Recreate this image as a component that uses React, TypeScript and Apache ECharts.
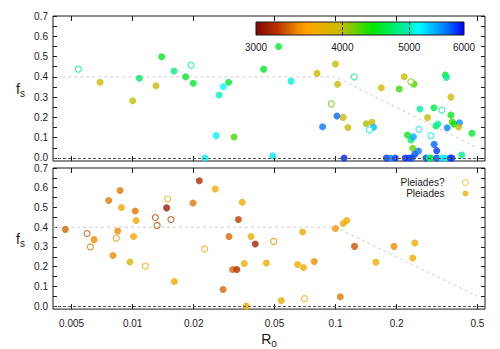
import React, { useEffect, useRef } from "react";
import * as echarts from "echarts";

// ---------- DATA ----------
// Top panel (field stars), filled symbols
const topRo = [0.00691, 0.0100, 0.0108, 0.01304, 0.0139, 0.0160, 0.01824, 0.0199, 0.02275, 0.0258,
  0.0267, 0.028, 0.0297, 0.0316, 0.0524, 0.0442, 0.0603, 0.049, 0.081, 0.0999,
  0.1023, 0.1016, 0.109, 0.115, 0.0863, 0.1102, 0.1416, 0.151, 0.1539, 0.168,
  0.218, 0.2433, 0.206, 0.2605, 0.3053, 0.284, 0.348, 0.352, 0.370, 0.370,
  0.3757, 0.383, 0.3124, 0.32, 0.355, 0.408, 0.404, 0.470, 0.226, 0.235,
  0.242, 0.24, 0.246, 0.256, 0.306, 0.315, 0.418,
  0.178, 0.186, 0.197, 0.2205, 0.2307, 0.2378, 0.2789, 0.2894, 0.2951, 0.3145, 0.3342, 0.347, 0.3673, 0.3745];
const topFs = [0.373, 0.282, 0.393, 0.356, 0.499, 0.429, 0.40, 0.368, 0.0, 0.11,
  0.31, 0.351, 0.373, 0.103, 0.55, 0.438, 0.379, 0.011, 0.417, 0.463,
  0.363, 0.207, 0.20, 0.15, 0.154, 0.0, 0.169, 0.176, 0.151, 0.346,
  0.40, 0.364, 0.34, 0.241, 0.248, 0.199, 0.409, 0.397, 0.30, 0.212,
  0.179, 0.167, 0.158, 0.167, 0.149, 0.174, 0.153, 0.122, 0.113, 0.089,
  0.105, 0.048, 0.018, 0.034, 0.067, 0.036, 0.015,
  0, 0, 0, 0, 0, 0, 0, 0, 0, 0, 0, 0, 0, 0];
const topTeff = [3900, 4000, 4700, 3950, 4500, 4800, 4550, 4550, 5200, 5200,
  5000, 5150, 4550, 4250, 4550, 4550, 5050, 5200, 3950, 3950,
  3950, 5700, 3950, 3950, 5650, 5900, 4050, 3950, 5400, 3950,
  3950, 4250, 4300, 4950, 4650, 3950, 4550, 4900, 3950, 4500,
  4250, 4400, 4700, 4950, 5600, 5550, 3950, 4550, 4500, 4700,
  5450, 4200, 5800, 5650, 5700, 5850, 4900,
  5850, 5600, 5850, 5900, 5850, 5800, 5800, 4900, 4600, 5800, 5250, 5200, 5850, 5850];

// Top panel, open symbols
const topOpenRo = [0.0054, 0.0194, 0.1236, 0.0953, 0.147, 0.235, 0.334, 0.2576, 0.295];
const topOpenFs = [0.438, 0.458, 0.40, 0.267, 0.138, 0.376, 0.236, 0.141, 0.11];
const topOpenTeff = [4900, 4900, 4900, 4200, 5200, 4150, 4950, 5200, 5200];

// Bottom panel: Pleiades (filled)
const pleRo = [0.00466, 0.00645, 0.00762, 0.00867, 0.0088, 0.00844, 0.0080, 0.0097, 0.0103, 0.0104,
  0.0101, 0.0147, 0.01605, 0.01984, 0.0213, 0.02555, 0.0279, 0.02985, 0.0311, 0.0326,
  0.0332, 0.0347, 0.0355, 0.0363, 0.0383, 0.0402, 0.0456, 0.054, 0.065, 0.0688,
  0.0695, 0.0785, 0.0999, 0.1055, 0.109, 0.1135, 0.124, 0.158, 0.194, 0.246, 0.24];
const pleFs = [0.389, 0.337, 0.535, 0.586, 0.50, 0.381, 0.257, 0.224, 0.482, 0.434,
  0.353, 0.498, 0.125, 0.523, 0.635, 0.594, 0.084, 0.353, 0.186, 0.186,
  0.439, 0.526, 0.216, 0.0, 0.353, 0.315, 0.219, 0.028, 0.211, 0.376,
  0.196, 0.226, 0.393, 0.048, 0.419, 0.434, 0.303, 0.223, 0.303, 0.32, 0.244];
const pleTeff = [3350, 3450, 3400, 3400, 3650, 3450, 3450, 3850, 3400, 3650,
  3550, 3100, 3600, 3400, 3200, 3600, 3350, 3350, 3350, 3200,
  3250, 3650, 3650, 3650, 3700, 3150, 3700, 3750, 3700, 3700,
  3700, 3450, 3500, 3400, 3650, 3650, 3300, 3700, 3450, 3650, 3650];

// Bottom panel: Pleiades? (open)
const pleQRo = [0.00596, 0.00619, 0.00831, 0.01155, 0.01294, 0.01319, 0.01488, 0.01545, 0.02263, 0.0495, 0.0703];
const pleQFs = [0.368, 0.30, 0.345, 0.203, 0.449, 0.409, 0.543, 0.439, 0.29, 0.328, 0.038];
const pleQTeff = [3300, 3400, 3500, 3700, 3250, 3250, 3650, 3250, 3650, 3450, 3700];

// Model line (saturated plateau, then decline)
const modelRoTop = [0.0045, 0.1, 0.5];
const modelRoBottom = [0.00405, 0.1, 0.5];
const modelFs = [0.4, 0.4, 0.05];

// Ticks
const roTicks = [0.005, 0.01, 0.02, 0.05, 0.1, 0.2, 0.5];
const fsTicks = [0, 0.1, 0.2, 0.3, 0.4, 0.5, 0.6, 0.7];
const fsMinorTicks = [0, 0.05, 0.1, 0.15, 0.2, 0.25, 0.3, 0.35, 0.4, 0.45, 0.5, 0.55, 0.6, 0.65, 0.7];
const teffTicks = [3000, 4000, 5000, 6000];
const teffDashTicks = [4000, 5000];
const legendNames = ["Pleiades?", "Pleiades"];

// ---------- STYLE HELPERS ----------
const lg = Math.log10;
const RO_MIN = lg(0.00405);
const RO_MAX = lg(0.545);
const FS_MIN = -0.015;
const FS_MAX = 0.7;
const T_MIN = lg(3000);
const T_MAX = lg(6000);
const FONT = "Liberation Sans, Arial, sans-serif";
const INK = "#1a1a1a";

const paletteStops: [number, string][] = [
  [0, "#800800"],
  [0.1, "#b83000"],
  [0.2, "#f08800"],
  [0.25, "#ffa500"],
  [0.41, "#c4bc00"],
  [0.56, "#00e800"],
  [0.73, "#00f0b0"],
  [0.78, "#00ffff"],
  [0.92, "#0070ff"],
  [1, "#0000ff"],
];
function hexToRgb(h: string) {
  return [parseInt(h.slice(1, 3), 16), parseInt(h.slice(3, 5), 16), parseInt(h.slice(5, 7), 16)];
}
function colorAt(f: number) {
  const ff = Math.max(0, Math.min(1, f));
  for (let i = 1; i < paletteStops.length; i++) {
    const [o1, c1] = paletteStops[i - 1];
    const [o2, c2] = paletteStops[i];
    if (ff <= o2) {
      const t = (ff - o1) / (o2 - o1);
      const a = hexToRgb(c1), b = hexToRgb(c2);
      const m = a.map((v, k) => Math.round(v + (b[k] - v) * t));
      return `rgb(${m[0]},${m[1]},${m[2]})`;
    }
  }
  return paletteStops[paletteStops.length - 1][1];
}
const teffColor = (t: number) => colorAt((lg(t) - T_MIN) / (T_MAX - T_MIN));
const visualColors = Array.from({ length: 81 }, (_, i) => colorAt(i / 80));

const toPts = (ro: number[], fs: number[], teff: number[]) => ro.map((r, i) => [lg(r), fs[i], lg(teff[i])]);
const toOpenPts = (ro: number[], fs: number[], teff: number[]) => ro.map((r, i) => ({
  value: [lg(r), fs[i], lg(teff[i])],
  itemStyle: { color: "#fff", borderColor: teffColor(teff[i]), borderWidth: 1.1 },
}));

const roFmt = (v: number) => String(parseFloat(Math.pow(10, v).toPrecision(2)));

function xAxisFor(gridIndex: number, position: "top" | "bottom", labels: boolean): any {
  return {
    type: "value", gridIndex, position, min: RO_MIN, max: RO_MAX,
    axisLine: { show: false, onZero: false },
    splitLine: { show: false },
    axisTick: { show: true, inside: true, length: 5, customValues: roTicks.map(lg), lineStyle: { color: INK } },
    axisLabel: { show: labels, customValues: roTicks.map(lg), formatter: roFmt, color: INK, fontSize: 10, fontFamily: FONT, margin: 9 },
  };
}
function yAxisFor(gridIndex: number, position: "left" | "right", labels: boolean): any {
  return {
    type: "value", gridIndex, position, min: FS_MIN, max: FS_MAX,
    axisLine: { show: false, onZero: false },
    splitLine: { show: false },
    axisTick: { show: true, inside: true, length: 4, customValues: fsMinorTicks, lineStyle: { color: INK } },
    axisLabel: { show: labels, customValues: fsTicks, formatter: (v: number) => v.toFixed(1), color: INK, fontSize: 10, fontFamily: FONT, margin: 5 },
    name: labels ? "{a|f}{b|s}" : "",
    nameLocation: "middle",
    nameRotate: 0,
    nameGap: 28,
    nameTextStyle: {
      rich: {
        a: { fontSize: 14, lineHeight: 14, fontFamily: FONT, color: INK },
        b: { fontSize: 10, lineHeight: 10, padding: [9, 0, 0, 0], fontFamily: FONT, color: INK },
      },
    },
  };
}

export default function App() {
  const ref = useRef<HTMLDivElement>(null);
  useEffect(() => {
    if (!ref.current) return;
    const chart = echarts.init(ref.current, undefined, { renderer: "svg" });
    const gradient = new echarts.graphic.LinearGradient(0, 0, 1, 0,
      paletteStops.map(([o, c]) => ({ offset: o, color: c })));
    const modelLine = (ro: number[], xi: number, yi: number) => ({
      type: "line", xAxisIndex: xi, yAxisIndex: yi, z: 1, symbol: "none", silent: true,
      data: ro.map((r, i) => [lg(r), modelFs[i]]),
      lineStyle: { color: "#cfcfcf", width: 1, type: [3, 3] },
      markLine: {
        silent: true, symbol: "none", label: { show: false },
        lineStyle: { color: "#555", width: 1, type: [3, 2] },
        data: [{ yAxis: 0 }],
      },
    });
    const xBottom = xAxisFor(1, "bottom", true);
    xBottom.name = "{a|R}{b|o}";
    xBottom.nameLocation = "middle";
    xBottom.nameGap = 17;
    xBottom.nameTextStyle = {
      rich: {
        a: { fontSize: 14, lineHeight: 14, fontFamily: FONT, color: INK },
        b: { fontSize: 10, lineHeight: 10, padding: [9, 0, 0, 0], fontFamily: FONT, color: INK },
      },
    };
    const option: any = {
      animation: false,
      backgroundColor: "#fff",
      grid: [
        { left: 53, top: 16, width: 432, height: 145, show: true, borderColor: INK, borderWidth: 1, backgroundColor: "transparent" },
        { left: 53, top: 168, width: 432, height: 145, show: true, borderColor: INK, borderWidth: 1, backgroundColor: "transparent" },
        { left: 256, top: 22, width: 208, height: 13, show: false },
      ],
      xAxis: [
        xAxisFor(0, "bottom", false),
        xAxisFor(0, "top", false),
        xBottom,
        xAxisFor(1, "top", false),
        {
          type: "value", gridIndex: 2, position: "bottom", min: T_MIN, max: T_MAX, z: 10,
          axisLine: { show: false, onZero: false },
          splitLine: { show: false },
          axisTick: { show: true, inside: true, length: 13, customValues: teffDashTicks.map(lg), lineStyle: { color: INK, type: [3, 2], width: 1 } },
          axisLabel: { show: true, customValues: teffTicks.map(lg), formatter: (v: number) => String(Math.round(Math.pow(10, v))), color: INK, fontSize: 10, fontFamily: FONT, margin: 7 },
        },
      ],
      yAxis: [
        yAxisFor(0, "left", true),
        yAxisFor(0, "right", false),
        yAxisFor(1, "left", true),
        yAxisFor(1, "right", false),
        { type: "value", gridIndex: 2, min: 0, max: 1, show: false },
      ],
      visualMap: {
        type: "continuous", show: false, dimension: 2, min: T_MIN, max: T_MAX,
        seriesIndex: [2, 5],
        inRange: { color: visualColors },
      },
      legend: {
        data: legendNames,
        orient: "vertical", align: "right", right: 26, top: 172,
        itemWidth: 32, itemHeight: 6, itemGap: 0, selectedMode: false,
        itemStyle: { borderWidth: 1 },
        textStyle: { fontSize: 10, lineHeight: 11, color: INK, fontFamily: FONT },
      },
      series: [
        modelLine(modelRoTop, 0, 0),
        modelLine(modelRoBottom, 2, 2),
        {
          name: "field", type: "scatter", xAxisIndex: 0, yAxisIndex: 0, z: 3,
          symbol: "circle", symbolSize: 7, data: toPts(topRo, topFs, topTeff),
        },
        {
          name: "field?", type: "scatter", xAxisIndex: 0, yAxisIndex: 0, z: 3,
          symbol: "circle", symbolSize: 6,
          data: toOpenPts(topOpenRo, topOpenFs, topOpenTeff),
        },
        {
          name: "Pleiades?", type: "scatter", xAxisIndex: 2, yAxisIndex: 2, z: 3,
          symbol: "circle", symbolSize: 6,
          itemStyle: { color: "#fff", borderColor: "#f0b400", borderWidth: 1 },
          data: toOpenPts(pleQRo, pleQFs, pleQTeff),
        },
        {
          name: "Pleiades", type: "scatter", xAxisIndex: 2, yAxisIndex: 2, z: 3,
          symbol: "circle", symbolSize: 7, itemStyle: { color: "#e8b400" },
          data: toPts(pleRo, pleFs, pleTeff),
        },
        {
          type: "custom", xAxisIndex: 4, yAxisIndex: 4, z: 2, silent: true,
          data: [[T_MIN, 0]],
          renderItem: (_params: any, api: any) => {
            const p0 = api.coord([T_MIN, 0]);
            const p1 = api.coord([T_MAX, 1]);
            return {
              type: "rect",
              shape: { x: p0[0], y: p1[1], width: p1[0] - p0[0], height: p0[1] - p1[1] },
              style: { fill: gradient, stroke: INK, lineWidth: 1 },
            };
          },
        },
      ],
    };
    chart.setOption(option);
    return () => chart.dispose();
  }, []);
  return (
    <div
      ref={ref}
      style={{ position: "absolute", left: 0, top: 0, width: 500, height: 349 }}
    />
  );
}
